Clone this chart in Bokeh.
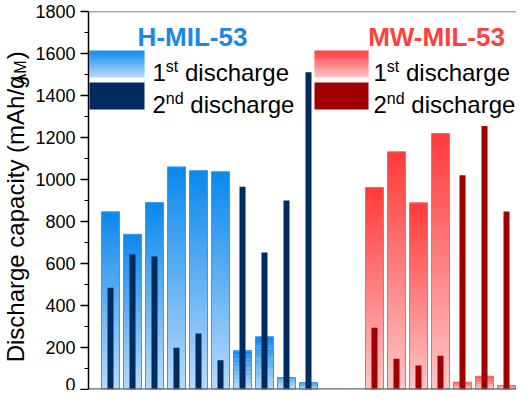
import math
from bokeh.plotting import figure
from bokeh.layouts import row
from bokeh.models import Range1d, Label, Span, FixedTicker, ColumnDataSource
from bokeh.embed import file_html
from bokeh.resources import INLINE

# ---------------- data ----------------
h_positions = [0, 1, 2, 3, 4, 5, 6, 7, 8, 9]
h_first = [846, 739, 890, 1060, 1042, 1037, 185, 251, 57, 33]
h_second = [485, 644, 633, 199, 267, 139, 965, 652, 900, 1511]

mw_positions = [12, 13, 14, 15, 16, 17, 18]
mw_first = [962, 1132, 889, 1219, 35, 63, 19]
mw_second = [294, 147, 114, 161, 1020, 1255, 848]

y_major = [0, 200, 400, 600, 800, 1000, 1200, 1400, 1600, 1800]
y_minor = [100, 300, 500, 700, 900, 1100, 1300, 1500, 1700]

series_names = ["H-MIL-53", "MW-MIL-53"]
legend_labels = [("1", "st", "discharge"), ("2", "nd", "discharge")]
y_label_main = "Discharge capacity (mAh/g"
y_label_sub = "AM"
y_label_end = ")"

# ---------------- layout / style ----------------
FONT = "Liberation Sans"
FIG_H = 390
LW = 32                 # width of the strip holding the y-axis title
MAIN_W = 516 - LW
LEFT, TOP, BOT = 88 - LW, 11, 1
SHIFT = 8               # reference pixel -> canvas pixel offset
STEP = 22.0
x_lo = -1.0
x_hi = x_lo + (MAIN_W - LEFT) / STEP
frame_h = FIG_H - TOP - BOT
YMAX = 1800

BLUE_TOP, BLUE_BOT, BLUE_EDGE, BLUE_DARK = "#0a88ec", "#b8dafb", "#3a96ee", "#002b60"
RED_TOP, RED_BOT, RED_EDGE, RED_DARK = "#ff3a3a", "#ffc6c6", "#ff6464", "#a00000"


def X(img_px):
    return x_lo + (img_px - SHIFT - LW - LEFT) / STEP


def Y(img_py):
    return (SHIFT + TOP + frame_h - img_py) * YMAX / frame_h


def hex2rgb(c):
    c = c.lstrip("#")
    return [int(c[i:i + 2], 16) for i in (0, 2, 4)]


def lerp(c0, c1, t):
    a, b = hex2rgb(c0), hex2rgb(c1)
    return "#%02x%02x%02x" % tuple(int(round(a[i] + (b[i] - a[i]) * t)) for i in range(3))


def grad_rects(p, lefts, rights, bottoms, tops, c_bot, c_top, n=48):
    L, R, B, T, C = [], [], [], [], []
    for l, r, b, t in zip(lefts, rights, bottoms, tops):
        h = t - b
        for k in range(n):
            L.append(l)
            R.append(r)
            B.append(b + h * k / n)
            T.append(min(t, b + h * (k + 1.4) / n))
            C.append(lerp(c_bot, c_top, (k + 0.5) / n))
    src = ColumnDataSource(dict(left=L, right=R, bottom=B, top=T, color=C))
    p.quad(left="left", right="right", bottom="bottom", top="top", fill_color="color",
           line_color=None, source=src)


# ---------- strip with the rotated y-axis title ----------
pl = figure(width=LW, height=FIG_H, x_range=Range1d(0, LW), y_range=Range1d(0, FIG_H),
            output_backend="svg", toolbar_location=None, x_axis_location=None,
            y_axis_location=None, min_border_left=0, min_border_right=0,
            min_border_top=0, min_border_bottom=0)
pl.grid.visible = False
pl.outline_line_color = None
pl.background_fill_color = "white"
pl.border_fill_color = "white"


def LY(img_py):
    return FIG_H - (img_py - SHIFT)


LBL = 24
start_y = 370
main_w = 11.948 * LBL
BASE_X = 31 - SHIFT - 8      # empirical anchor for the rotated text
pl.add_layout(Label(x=BASE_X, y=LY(start_y), text=y_label_main, angle=math.pi / 2,
                    text_font=FONT, text_font_size="%dpx" % LBL, text_baseline="alphabetic",
                    text_align="left", text_color="black"))
pl.add_layout(Label(x=BASE_X + 5, y=LY(start_y - main_w), text=y_label_sub, angle=math.pi / 2,
                    text_font=FONT, text_font_size="16px", text_baseline="alphabetic",
                    text_align="left", text_color="black"))
pl.add_layout(Label(x=BASE_X, y=LY(start_y - main_w - 1.5 * 16 - 2), text=y_label_end,
                    angle=math.pi / 2, text_font=FONT, text_font_size="%dpx" % LBL,
                    text_baseline="alphabetic", text_align="left", text_color="black"))

# ---------- main chart ----------
p = figure(width=MAIN_W, height=FIG_H, x_range=Range1d(x_lo, x_hi), y_range=Range1d(0, YMAX),
           output_backend="svg", toolbar_location=None, x_axis_location=None,
           min_border_left=LEFT, min_border_right=0, min_border_top=TOP, min_border_bottom=BOT)
p.grid.visible = False
p.outline_line_color = None
p.background_fill_color = "white"
p.border_fill_color = "white"

ax = p.yaxis[0]
ax.ticker = FixedTicker(ticks=y_major, minor_ticks=y_minor)
ax.axis_line_color = "black"
ax.axis_line_width = 1.5
ax.major_tick_out = 8
ax.major_tick_in = 0
ax.minor_tick_out = 4
ax.minor_tick_in = 0
ax.major_tick_line_color = "black"
ax.major_tick_line_width = 1.5
ax.minor_tick_line_color = "black"
ax.minor_tick_line_width = 1.2
ax.major_label_text_font = FONT
ax.major_label_text_font_size = "18px"
ax.major_label_text_color = "black"
ax.major_label_standoff = 5

WIDE = 18 / STEP
NARROW = 6 / STEP

# wide gradient bars (1st discharge)
for pos, vals, cb, ct, edge in [(h_positions, h_first, BLUE_BOT, BLUE_TOP, BLUE_EDGE),
                                (mw_positions, mw_first, RED_BOT, RED_TOP, RED_EDGE)]:
    lefts = [x - WIDE / 2 for x in pos]
    rights = [x + WIDE / 2 for x in pos]
    grad_rects(p, lefts, rights, [0] * len(vals), vals, cb, ct)
    p.quad(left=lefts, right=rights, bottom=[0] * len(vals), top=vals,
           fill_alpha=0, line_color=edge, line_width=1)

# narrow bars (2nd discharge)
p.vbar(x=h_positions, top=h_second, width=NARROW, fill_color=BLUE_DARK, line_color=None)
p.vbar(x=mw_positions, top=mw_second, width=NARROW, fill_color=RED_DARK, line_color=None)

# frame lines
p.add_layout(Span(location=YMAX, dimension="width", line_color="#555555", line_width=1.5))
p.add_layout(Span(location=0, dimension="width", line_color="#666666", line_width=2.5))

# legends
for (sx0, sx1, tx, title_x, title, tcol, c_bot, c_top, dark) in [
        (97, 152, 160, 200, series_names[0], "#1a88e8", BLUE_BOT, BLUE_TOP, BLUE_DARK),
        (322, 376, 381, 444, series_names[1], "#ff4040", RED_BOT, RED_TOP, RED_DARK)]:
    grad_rects(p, [X(sx0)], [X(sx1)], [Y(85)], [Y(58)], c_bot, c_top, n=24)
    p.quad(left=[X(sx0)], right=[X(sx1)], bottom=[Y(117)], top=[Y(90)],
           fill_color=dark, line_color=None)
    p.add_layout(Label(x=X(title_x), y=Y(44), text=title, text_align="center",
                       text_baseline="alphabetic", text_font=FONT, text_font_size="26px",
                       text_font_style="bold", text_color=tcol))
    for (num, sup, word), base in zip(legend_labels, [80, 112]):
        big = 24
        small = 16
        w_num = 0.556 * big
        w_sup = (0.778 if sup == "st" else 1.112) * small
        p.add_layout(Label(x=X(tx), y=Y(base), text=num, text_font=FONT,
                           text_font_size="%dpx" % big, text_baseline="alphabetic",
                           text_align="left", text_color="black"))
        p.add_layout(Label(x=X(tx + w_num), y=Y(base - 6), text=sup, text_font=FONT,
                           text_font_size="%dpx" % small, text_baseline="alphabetic",
                           text_align="left", text_color="black"))
        p.add_layout(Label(x=X(tx + w_num + w_sup + 0.278 * big), y=Y(base), text=word,
                           text_font=FONT, text_font_size="%dpx" % big,
                           text_baseline="alphabetic", text_align="left", text_color="black"))

layout = row(pl, p)
open("out.html", "w").write(file_html(layout, INLINE))
